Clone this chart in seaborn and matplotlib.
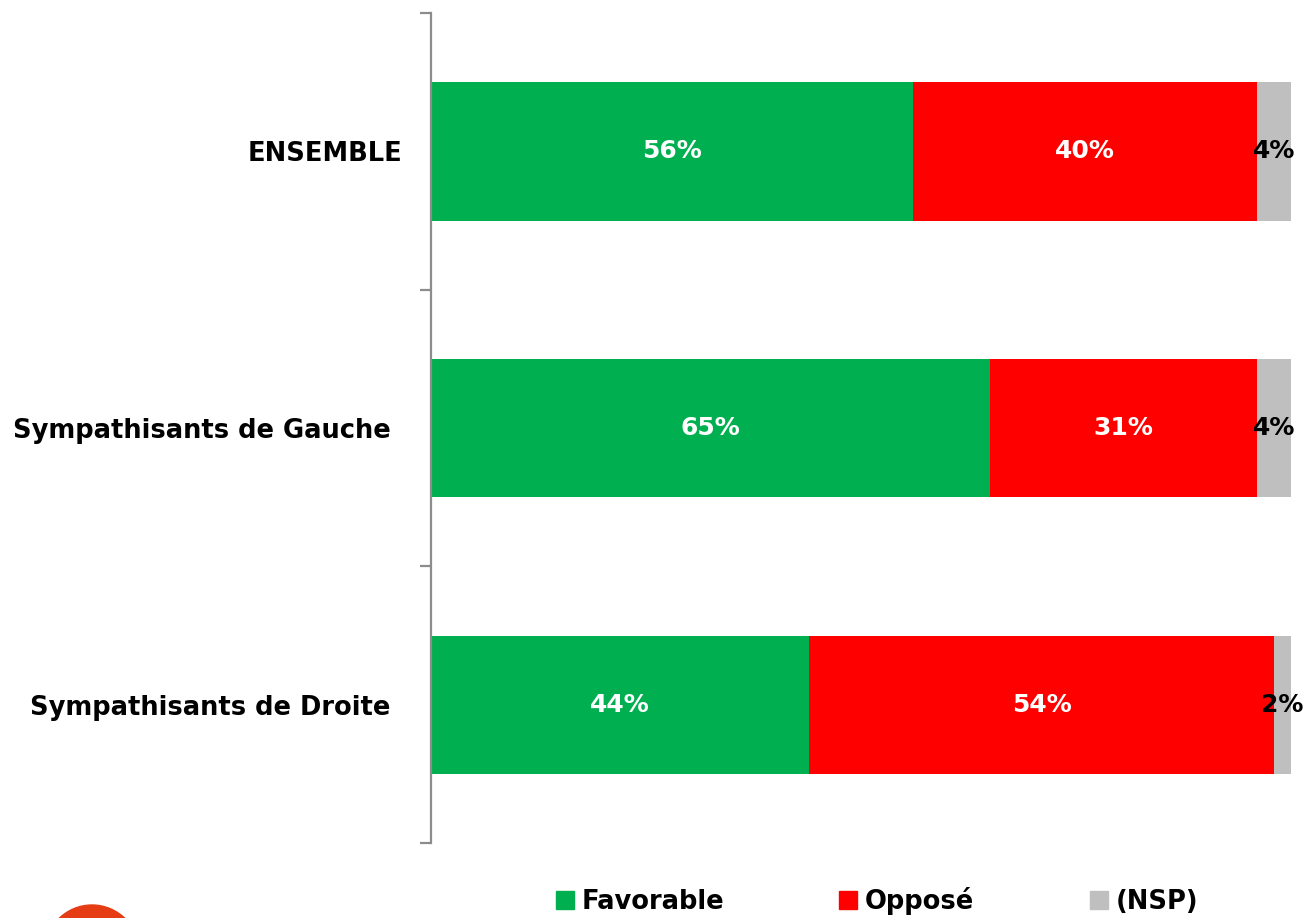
import matplotlib
matplotlib.use("Agg")
import matplotlib.pyplot as plt
import matplotlib.transforms as mtransforms
import seaborn as sns
import pandas as pd
from matplotlib.patches import Patch, Circle

# data
groups = ["ENSEMBLE", "Sympathisants de Gauche", "Sympathisants de Droite"]
favorable = [56, 65, 44]
oppose = [40, 31, 54]
nsp = [4, 4, 2]

c_fav = "#00B050"
c_opp = "#FF0000"
c_nsp = "#BFBFBF"

sns.set_theme(style="white")
plt.rcParams["font.family"] = ["DejaVu Sans"]

df = pd.DataFrame({"group": groups, "fav": favorable, "opp": oppose, "nsp": nsp})
df["cum_opp"] = df["fav"] + df["opp"]
df["cum_nsp"] = df["cum_opp"] + df["nsp"]

fig = plt.figure(figsize=(13.05, 9.18), dpi=100)
ax = fig.add_axes([0.3303, 0.0817, 0.6590, 0.9041])

# stacked by overlaying cumulative totals
bar_kw = dict(width=0.5, ax=ax, orient="h", saturation=1, linewidth=0)
sns.barplot(data=df, y="group", x="cum_nsp", color=c_nsp, **bar_kw)
sns.barplot(data=df, y="group", x="cum_opp", color=c_opp, **bar_kw)
sns.barplot(data=df, y="group", x="fav", color=c_fav, **bar_kw)

fs = 18.5
for i, row in df.iterrows():
    ax.text(row["fav"] / 2, i, f"{row['fav']}%", ha="center", va="center",
            color="white", fontsize=18, fontweight="bold")
    ax.text(row["fav"] + row["opp"] / 2, i, f"{row['opp']}%", ha="center", va="center",
            color="white", fontsize=18, fontweight="bold")
    ax.text(row["cum_opp"] + row["nsp"] / 2, i, f"{row['nsp']}%", ha="center", va="center",
            color="black", fontsize=18, fontweight="bold")

ax.set_xlim(0, 100)
ax.set_ylim(2.5, -0.5)
ax.set_xlabel("")
ax.set_ylabel("")
ax.set_xticks([])
for s in ["top", "right", "bottom"]:
    ax.spines[s].set_visible(False)
ax.spines["left"].set_color("#8C8C8C")
ax.spines["left"].set_linewidth(1.6)

ax.set_yticks([-0.5, 0.5, 1.5, 2.5], minor=True)
ax.tick_params(axis="y", which="minor", length=8, width=1.6, color="#8C8C8C", left=True)
ax.tick_params(axis="y", which="major", length=0, pad=29)
for lab in ax.get_yticklabels():
    lab.set_fontsize(fs)
    lab.set_fontweight("bold")
    lab.set_color("black")
# first label sits a little closer to the axis in the original
first = ax.get_yticklabels()[0]
first.set_transform(first.get_transform() +
                    mtransforms.ScaledTranslation(0.12, 0, fig.dpi_scale_trans))

handles = [Patch(color=c_fav, label="Favorable"),
           Patch(color=c_opp, label="Opposé"),
           Patch(color=c_nsp, label="(NSP)")]
leg = fig.legend(handles=handles, loc="center", bbox_to_anchor=(0.672, 0.019), ncol=3,
                 frameon=False, handlelength=0.7, handleheight=0.7, handletextpad=0.3,
                 columnspacing=4.5, prop={"weight": "bold", "size": fs})
for t in leg.get_texts():
    t.set_color("black")

# partial logo at bottom-left corner
fig.patches.append(Circle((92, -34), 47, transform=None, color="#E63C14"))

fig.savefig("out.png", dpi=100)
